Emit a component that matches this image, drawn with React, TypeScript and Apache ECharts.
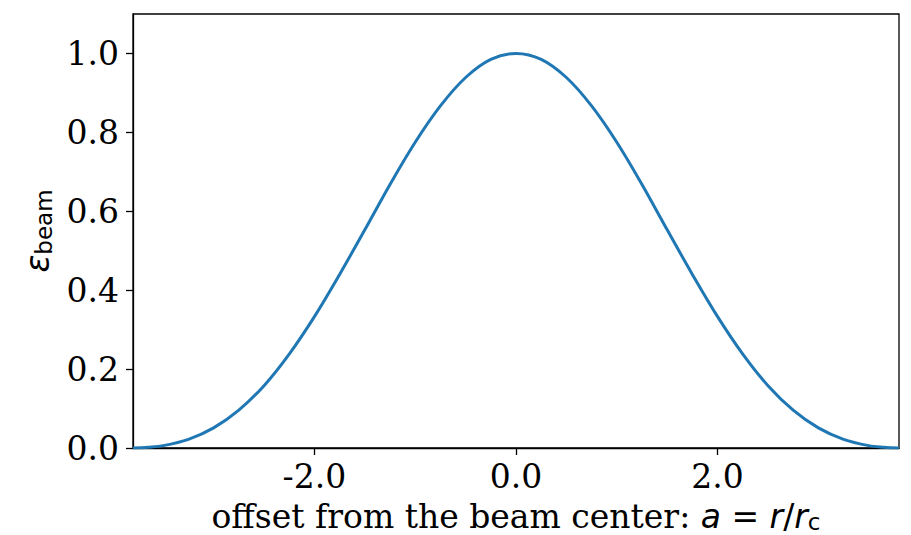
import React, { useEffect, useRef } from "react";
import * as echarts from "echarts";

// offset a = r / r_c (positive half; the curve is symmetric)
const offsets = [0, 0.25, 0.5, 0.75, 1.0, 1.25, 1.5, 1.75, 2.0, 2.25, 2.5, 2.75, 3.0, 3.25, 3.5, 3.65, 3.8];
// beam efficiency
const efficiency = [1.0, 0.985, 0.939, 0.867, 0.775, 0.668, 0.553, 0.44, 0.333, 0.238, 0.158, 0.096, 0.051, 0.022, 0.006, 0.002, 0.0];

const xTicks = [-2, 0, 2];
const yTicks = [0, 0.2, 0.4, 0.6, 0.8, 1.0];

const X_MIN = -3.8;
const X_MAX = 3.8;
const Y_MIN = 0;
const Y_MAX = 1.1;

export default function App() {
  const ref = useRef<HTMLDivElement>(null);

  useEffect(() => {
    if (!ref.current) return;
    const chart = echarts.init(ref.current, undefined, { renderer: "svg" });

    const left: [number, number][] = [];
    for (let i = offsets.length - 1; i > 0; i--) left.push([-offsets[i], efficiency[i]]);
    const right: [number, number][] = offsets.map((o, i) => [o, efficiency[i]]);
    const data = left.concat(right);

    const serif = "DejaVu Serif";
    const sans = "DejaVu Sans";
    const fs = 33;
    const subFs = 23;

    const mainTok = { fontSize: fs, color: "#000", lineHeight: 34, verticalAlign: "top" };
    const subTok = {
      fontFamily: sans,
      fontSize: subFs,
      color: "#000",
      lineHeight: 23,
      padding: [13, 0, 0, 0],
      verticalAlign: "bottom",
    };

    chart.setOption({
      animation: false,
      backgroundColor: "#ffffff",
      grid: {
        left: 133,
        right: 12,
        top: 14,
        bottom: 87,
        show: true,
        borderColor: "#000000",
        borderWidth: 1.3,
        backgroundColor: "transparent",
        containLabel: false,
        outerBoundsMode: "none",
      },
      xAxis: {
        type: "value",
        min: X_MIN,
        max: X_MAX,
        splitLine: { show: false },
        axisLine: { show: true, onZero: false, lineStyle: { color: "#000", width: 1.3 } },
        axisTick: { show: true, customValues: xTicks, length: 7, lineStyle: { color: "#000", width: 1.3 } },
        axisLabel: {
          customValues: xTicks,
          formatter: (v: number) => v.toFixed(1),
          fontFamily: serif,
          fontSize: fs,
          color: "#000",
          margin: 12,
        },
        name: "{t|offset from the beam center: }{m|a}{o| = }{m|r}{o|/}{m|r}{s|c}",
        nameLocation: "middle",
        nameGap: 42,
        nameTextStyle: {
          rich: {
            t: { ...mainTok, fontFamily: serif },
            m: { ...mainTok, fontFamily: sans, fontStyle: "italic" },
            o: { ...mainTok, fontFamily: sans },
            s: subTok,
          },
        },
      },
      yAxis: {
        type: "value",
        min: Y_MIN,
        max: Y_MAX,
        splitLine: { show: false },
        axisLine: { show: true, onZero: false, lineStyle: { color: "#000", width: 1.3 } },
        axisTick: { show: true, customValues: yTicks, length: 7, lineStyle: { color: "#000", width: 1.3 } },
        axisLabel: {
          customValues: yTicks,
          formatter: (v: number) => v.toFixed(1),
          fontFamily: serif,
          fontSize: fs,
          color: "#000",
          margin: 14,
        },
        name: "{m|ε}{s|beam}",
        nameLocation: "middle",
        nameRotate: 90,
        nameGap: 78,
        nameTextStyle: {
          rich: {
            m: { ...mainTok, fontFamily: sans, fontStyle: "italic" },
            s: subTok,
          },
        },
      },
      series: [
        {
          type: "line",
          data,
          smooth: 0.35,
          showSymbol: false,
          symbol: "none",
          lineStyle: { color: "#1f77b4", width: 3 },
        },
      ],
    });

    return () => chart.dispose();
  }, []);

  return (
    <div
      ref={ref}
      style={{ position: "fixed", left: 0, top: 0, width: 911, height: 535, background: "#fff" }}
    />
  );
}
